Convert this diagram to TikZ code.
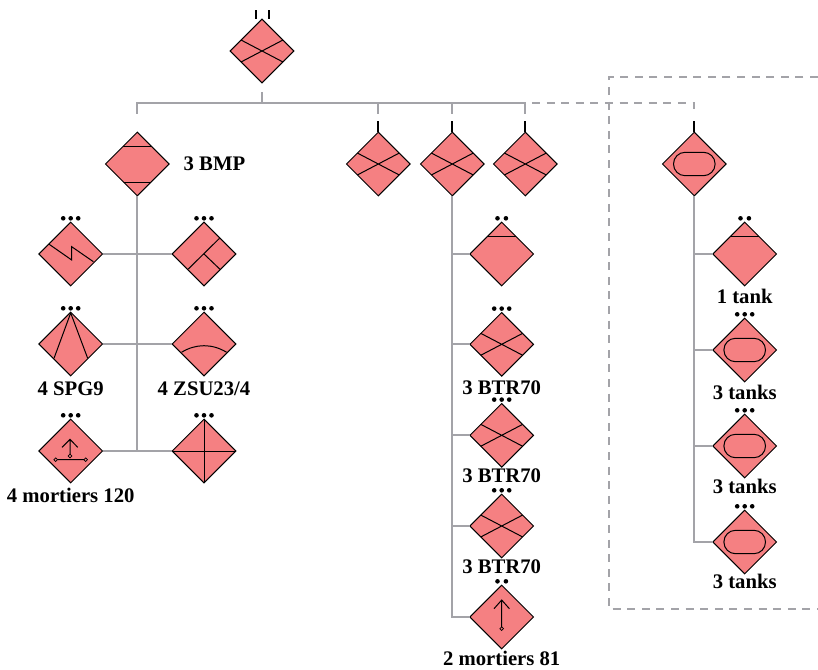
\documentclass[tikz,border=0pt]{standalone}
\usepackage{fontspec}
\setmainfont{Liberation Serif}
\usepackage{xcolor}
\definecolor{unitRed}{HTML}{F58082}
\definecolor{wireGrey}{HTML}{A3A3A8}
\usetikzlibrary{shapes.geometric, positioning}

\begin{document}
\begin{tikzpicture}[
    x=1pt, y=-1pt, on grid,
    wire/.style={draw=wireGrey, line width=2pt},
    wireDash/.style={wire, dash pattern=on 8pt off 6.6pt},
    tick/.style={draw=black, line width=2.2pt},
    unit/.style={diamond, aspect=1, draw=black, fill=unitRed, minimum size=63.6pt, inner sep=0pt, outer sep=0pt, line width=1pt},
    symbol/.style={unit, path picture={\begin{scope}[shift={(path picture bounding box.center)}, line width=1pt]#1\end{scope}}},
    unitCross/.style={symbol={\draw (-21,-11) -- (21,11) (-21,11) -- (21,-11);}},
    unitBars/.style={symbol={\draw (-14,-18) -- (14,-18) (-14,18) -- (14,18);}},
    unitTop/.style={symbol={\draw (-14,-18) -- (14,-18);}},
    unitZig/.style={symbol={\draw (-21.5,-9.7) -- (1,6) -- (1,-7.3) -- (22.7,7.7);}},
    unitTee/.style={symbol={\draw (15.5,-15.7) -- (-15.7,15) (0,0) -- (16,15.3);}},
    unitFan/.style={symbol={\draw (-16.7,14.3) -- (0,-31) -- (17,14.3);}},
    unitArc/.style={symbol={\draw (-22.5,8.3) .. controls (-8,-0.5) and (8,-0.5) .. (22.7,8.3);}},
    unitPlus/.style={symbol={\draw (0,-32) -- (0,32) (-32,0) -- (32,0);}},
    unitPill/.style={symbol={\draw[rounded corners=11.6pt] (-20.8,-11.7) rectangle (20.8,11.7);}},
    unitMortarBig/.style={symbol={
        \draw (-0.7,3.2) -- (-0.7,-11.7) (-8.7,-3.7) -- (-0.7,-11.7) -- (7,-3.7) (-13.2,8.7) -- (13.2,8.7);
        \draw[line width=0.7pt] (-0.7,5) circle (1.8) (-15,8.7) circle (1.8) (15,8.7) circle (1.8);}},
    unitMortar/.style={symbol={
        \draw (0,9.9) -- (0,-17) (-7.7,-8.3) -- (0,-17) -- (7.7,-8.3);
        \draw[line width=0.7pt] (0,11.7) circle (1.8);}},
    unitLabel/.style={font=\fontsize{20.7}{22}\selectfont\bfseries, inner sep=0pt, text height=13pt, text depth=0pt}
]
\useasboundingbox (0,0) rectangle (818,669);

% Top unit and first level
\node[unitCross] (top) at (262,51) {};
\node[unitBars] (bmp) at (137.3,164) {};
\node[unitCross] (infA) at (378.3,164) {};
\node[unitCross] (infB) at (452.3,164) {};
\node[unitCross] (infC) at (525.3,164) {};
\node[unitPill] (tanks) at (694.3,164) {};
\node[unitLabel, anchor=west] (bmpLabel) at (183.5,164) {3 BMP};

% Left group
\node[unitZig] (zig) at (70.7,254) {};
\node[unitTee, right=133.3pt of zig] (tee) {};
\node[unitFan, below=90pt of zig] (fan) {};
\node[unitArc, below=90pt of tee] (arc) {};
\node[unitMortarBig, below=107pt of fan] (mortBig) {};
\node[unitPlus, below=107pt of arc] (plus) {};
\node[unitLabel, below=44.7pt of fan] (fanLabel) {4 SPG9};
\node[unitLabel, below=44.7pt of arc] (arcLabel) {4 ZSU23/4};
\node[unitLabel, below=44.7pt of mortBig] (mortBigLabel) {4 mortiers 120};

% Middle group
\node[unitTop] (mid) at (501.7,254) {};
\node[unitCross, below=90.3pt of mid] (btrA) {};
\node[unitCross, below=91pt of btrA] (btrB) {};
\node[unitCross, below=90.7pt of btrB] (btrC) {};
\node[unitMortar, below=91pt of btrC] (mort) {};
\node[unitLabel, below=44pt of btrA] (btrALabel) {3 BTR70};
\node[unitLabel, below=41pt of btrB] (btrBLabel) {3 BTR70};
\node[unitLabel, below=41pt of btrC] (btrCLabel) {3 BTR70};
\node[unitLabel, below=42pt of mort] (mortLabel) {2 mortiers 81};

% Right group
\node[unitTop] (tankA) at (744.7,254) {};
\node[unitPill, below=96pt of tankA] (tankB) {};
\node[unitPill, below=96pt of tankB] (tankC) {};
\node[unitPill, below=96pt of tankC] (tankD) {};
\node[unitLabel, below=42.7pt of tankA] (tankALabel) {1 tank};
\node[unitLabel, below=42.7pt of tankB] (tankBLabel) {3 tanks};
\node[unitLabel, below=40.7pt of tankC] (tankCLabel) {3 tanks};
\node[unitLabel, below=39.7pt of tankD] (tankDLabel) {3 tanks};

% Dots above the units
\foreach \n in {zig,tee,fan,arc,mortBig,plus,btrA,btrB,btrC,tankB,tankC,tankD}
    \foreach \dx in {-7.5,0,7.5}
        \fill ([shift={(\dx,-35.7)}]\n.center) circle (2.3);
\foreach \n in {mid,mort,tankA}
    \foreach \dx in {-4.2,4.2}
        \fill ([shift={(\dx,-35.7)}]\n.center) circle (2.3);

% Bus between the levels
\coordinate (topStem) at ([yshift=-9pt]top.south);
\foreach \n in {bmp,infA,infB,infC,tanks} {
    \coordinate (\n Bus) at ([yshift=29.5pt]\n.north);
    \coordinate (\n Drop) at ([yshift=18.5pt]\n.north);
    \coordinate (\n Tick) at ([yshift=11pt]\n.north);
}
\draw[wire] (bmpDrop) -- (bmpBus) -- (infCBus) -- (infCDrop);
\draw[wire] (topStem) -- (topStem |- bmpBus);
\draw[wire] (infABus) -- (infADrop);
\draw[wire] (infBBus) -- (infBDrop);
\draw[wireDash, dash phase=8pt] (infCBus) -- (tanksBus) -- (tanksDrop);
\foreach \n in {infA,infB,infC,tanks}
    \draw[tick] (\n Tick) -- (\n.north);
\coordinate (tickL) at ([shift={(-6.3,-9)}]top.north);
\coordinate (tickR) at ([shift={(6.7,-9)}]top.north);
\draw[tick] (tickL) -- (tickL |- top.north);
\draw[tick] (tickR) -- (tickR |- top.north);

% Branches
\draw[wire] (bmp.south) -- (bmp.south |- mortBig.east);
\draw[wire] (zig.east) -- (tee.west);
\draw[wire] (fan.east) -- (arc.west);
\draw[wire] (mortBig.east) -- (plus.west);
\draw[wire] (infB.south) |- (mort.west);
\foreach \n in {mid,btrA,btrB,btrC}
    \draw[wire] (infB.south |- \n.west) -- (\n.west);
\draw[wire] (tanks.south) |- (tankD.west);
\foreach \n in {tankA,tankB,tankC}
    \draw[wire] (tanks.south |- \n.west) -- (\n.west);

% Dashed frame
\coordinate (frameA) at (818,77);
\coordinate (frameB) at (609,609);
\coordinate (frameC) at (818,609);
\draw[wireDash] (frameA) -| (frameB) -- (frameC);

\end{tikzpicture}
\end{document}
